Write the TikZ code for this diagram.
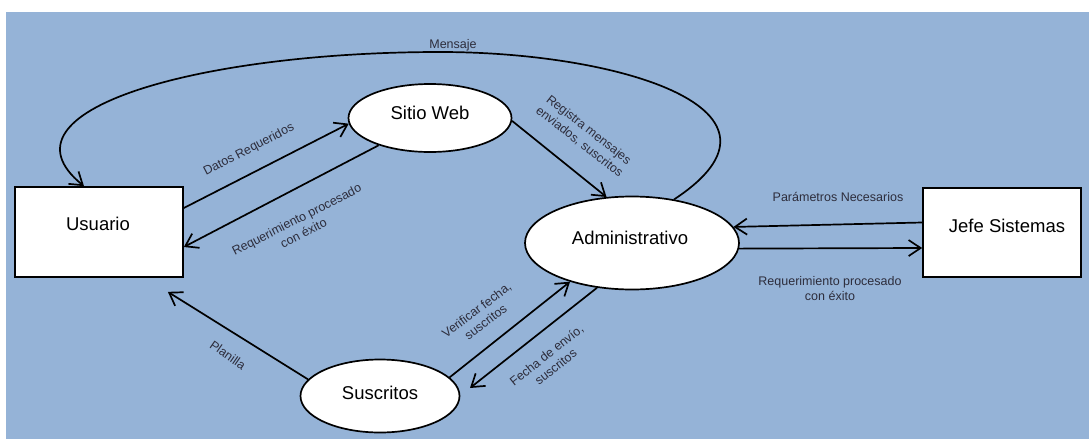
\documentclass[tikz,border=0pt]{standalone}
\usepackage{fontspec}
\setmainfont{Liberation Sans}
\usetikzlibrary{arrows.meta,shapes.geometric,calc}
\definecolor{bgblue}{RGB}{149,179,215}
\definecolor{lbl}{RGB}{45,45,60}
\begin{document}
\begin{tikzpicture}[x=1pt,y=-1pt,
  line width=1.7pt,
  arr/.style={-{Straight Barb[length=12pt,width=16pt]}},
  box/.style={draw, fill=white, rectangle, inner sep=0pt},
  proc/.style={draw, fill=white, ellipse, inner sep=0pt},
  ntext/.style={font=\fontsize{18.5}{22}\selectfont, inner sep=0pt},
  lab/.style={font=\fontsize{12.5}{15}\selectfont, text=lbl, align=center, inner sep=0pt}]
\useasboundingbox (0,0) rectangle (1089,439);
\fill[bgblue] (6,12) rectangle (1089,439);

% boxes and processes
\node[box, minimum width=168pt, minimum height=90pt] (usr) at (99,232) {};
\node[box, minimum width=158pt, minimum height=89pt] (jefe) at (1002,232.5) {};
\node[proc, minimum width=163pt, minimum height=68pt] (web) at (430,118) {};
\node[proc, minimum width=214pt, minimum height=93pt] (adm) at (632,243) {};
\node[proc, minimum width=159pt, minimum height=73pt] (sus) at (380,396) {};

\node[ntext] (usrt) at (98,224) {Usuario};
\node[ntext] (jefet) at (1007,226) {Jefe Sistemas};
\node[ntext] (webt) at (430,113) {Sitio Web};
\node[ntext] (admt) at (630,238) {Administrativo};
\node[ntext] (sust) at (380,393) {Suscritos};

% connectors
\coordinate (mtop) at (440,52);
\draw[arr] (adm.46) .. controls (810,110) and (620,52) .. (mtop)
  .. controls (200,52) and (-10,110) .. ($(usr.north)+(-15,0)$);
\draw[arr] ($(usr.east)+(0,-24)$) -- (web.184);
\draw[arr] (web.208) -- ($(usr.east)+(0,15)$);
\draw[arr] (web.358) -- (adm.119);
\draw[arr] ($(jefe.west)+(0,-10)$) -- (adm.9);
\draw[arr] (adm.-3) -- ($(jefe.west)+(0,15.5)$);
\draw[arr] (sus.167) -- ($(usr.south east)+(-16,14)$);
\draw[arr] (sus.15) -- (adm.212);
\draw[arr] (adm.232) -- ($(sus.center)+(90,-8)$);

% labels
\node[lab, rotate=27.5] (l1) at (249,150) {Datos Requeridos};
\node[lab, rotate=27] (l2) at (300,226) {Requerimiento procesado\\con éxito};
\node[lab, rotate=-38] (l3) at (584,136) {Registra mensajes\\enviados, suscritos};
\node[lab] (l4) at (453,45) {Mensaje};
\node[lab] (l5) at (838,197) {Parámetros Necesarios};
\node[lab] (l6) at (830,289) {Requerimiento procesado\\con éxito};
\node[lab, rotate=-35] (l7) at (228,355) {Planilla};
\node[lab, rotate=37] (l8) at (481,316) {Verificar fecha,\\suscritos};
\node[lab, rotate=38.5] (l9) at (551,361) {Fecha de envío,\\suscritos};
\end{tikzpicture}
\end{document}
